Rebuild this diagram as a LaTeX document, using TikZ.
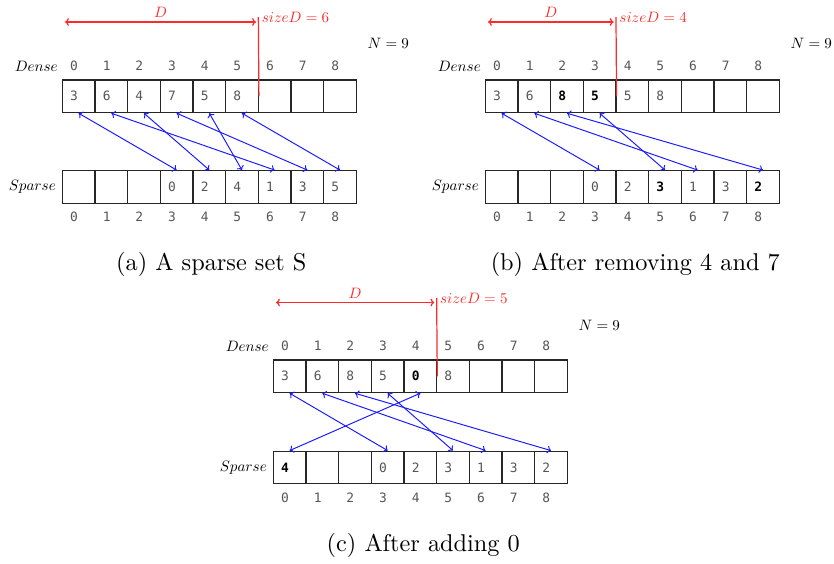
\documentclass[tikz,border=0pt]{standalone}
\usepackage{fontspec}
\usetikzlibrary{arrows.meta}
\newfontfamily\cellfont{DejaVu Sans Mono}
\definecolor{mRed}{HTML}{FF2A2A}
\definecolor{mBlue}{HTML}{1A1AFF}
\definecolor{mGray}{HTML}{555555}
\newcommand\shrink[1]{\scalebox{0.62}{#1}}
\newcommand\hl[1]{\textcolor{black}{\textbf{#1}}}

\tikzset{
  cell/.style={draw=black!85, line width=0.5pt, minimum height=13.44pt,
               inner xsep=3.2pt, inner ysep=0pt, text width=7.04pt, align=left,
               text=mGray, font=\cellfont\fontsize{5.3}{6}\selectfont},
  idx/.style={text=mGray, inner sep=0pt, font=\cellfont\fontsize{5.3}{6}\selectfont},
  rowname/.style={anchor=east, inner sep=0pt},
  link/.style={draw=mBlue, line width=0.4pt, <->, >={To[length=1.6pt,width=3.2pt]}},
  sizeline/.style={draw=mRed, line width=0.5pt},
  sizearrow/.style={draw=mRed, line width=0.5pt, <->, >={To[length=1.6pt,width=3.2pt]}},
  sizelabel/.style={text=mRed, anchor=west, inner sep=0pt},
  caption/.style={font=\normalsize},
}

\begin{document}
\begin{tikzpicture}[x=0.4115pt, y=-0.4115pt]
  \useasboundingbox (0,0) rectangle (834,563);

  % (a) the sparse set
  \begin{scope}[shift={(62.3,80)}]
    \foreach \v [count=\i from 0] in {3,6,4,7,5,8,{},{},{}}
      \node[cell] (a-d\i) at ({32.67*(\i+0.5)},16.3) {\v};
    \foreach \v [count=\i from 0] in {{},{},{},0,2,4,1,3,5}
      \node[cell] (a-s\i) at ({32.67*(\i+0.5)},107) {\v};
    \foreach \i in {0,...,8} {
      \node[idx] (a-di\i) at ({32.67*\i+11.7},-14) {\i};
      \node[idx] (a-si\i) at ({32.67*\i+11.7},137) {\i};
    }
    \node[rowname] (a-dense) at (-4,-14) {\shrink{$Dense$}};
    \node[rowname] (a-sparse) at (-6,107) {\shrink{$Sparse$}};
    \foreach \d/\s in {0/3,1/6,2/4,3/7,4/5,5/8}
      \draw[link] (a-d\d.south) -- (a-s\s.north);
    \coordinate (a-dl) at (2.7,-58);
    \coordinate (a-dr) at ({32.67*6-2.3},-58);
    \coordinate (a-top) at ({32.67*6},-63);
    \draw[sizearrow] (a-dl) -- node[above, inner sep=1.5pt, text=mRed] {\shrink{$D$}} (a-dr);
    \draw[sizeline] (a-top) -- (a-d5.east);
    \node[sizelabel] (a-size) at ({32.67*6+3},-63) {\shrink{$sizeD = 6$}};
    \node (a-n) at (326,-37) {\shrink{$N = 9$}};
    \node[caption] (a-cap) at (149,184) {(a) A sparse set S};
  \end{scope}

  % (b) after removing 4 and 7
  \begin{scope}[shift={(485.3,80)}]
    \foreach \v [count=\i from 0] in {3,6,\hl{8},\hl{5},5,8,{},{},{}}
      \node[cell] (b-d\i) at ({32.67*(\i+0.5)},16.3) {\v};
    \foreach \v [count=\i from 0] in {{},{},{},0,2,\hl{3},1,3,\hl{2}}
      \node[cell] (b-s\i) at ({32.67*(\i+0.5)},107) {\v};
    \foreach \i in {0,...,8} {
      \node[idx] (b-di\i) at ({32.67*\i+11.7},-14) {\i};
      \node[idx] (b-si\i) at ({32.67*\i+11.7},137) {\i};
    }
    \node[rowname] (b-dense) at (-4,-14) {\shrink{$Dense$}};
    \node[rowname] (b-sparse) at (-6,107) {\shrink{$Sparse$}};
    \foreach \d/\s in {0/3,1/6,2/8,3/5}
      \draw[link] (b-d\d.south) -- (b-s\s.north);
    \coordinate (b-dl) at (2.7,-58);
    \coordinate (b-dr) at ({32.67*4-2.3},-58);
    \coordinate (b-top) at ({32.67*4},-63);
    \draw[sizearrow] (b-dl) -- node[above, inner sep=1.5pt, text=mRed] {\shrink{$D$}} (b-dr);
    \draw[sizeline] (b-top) -- (b-d3.east);
    \node[sizelabel] (b-size) at ({32.67*4+3},-63) {\shrink{$sizeD = 4$}};
    \node (b-n) at (326,-37) {\shrink{$N = 9$}};
    \node[caption] (b-cap) at (150,184) {(b) After removing 4 and 7};
  \end{scope}

  % (c) after adding 0
  \begin{scope}[shift={(273.3,360)}]
    \foreach \v [count=\i from 0] in {3,6,8,5,\hl{0},8,{},{},{}}
      \node[cell] (c-d\i) at ({32.67*(\i+0.5)},16.3) {\v};
    \foreach \v [count=\i from 0] in {\hl{4},{},{},0,2,3,1,3,2}
      \node[cell] (c-s\i) at ({32.67*(\i+0.5)},107.5) {\v};
    \foreach \i in {0,...,8} {
      \node[idx] (c-di\i) at ({32.67*\i+11.7},-14) {\i};
      \node[idx] (c-si\i) at ({32.67*\i+11.7},138) {\i};
    }
    \node[rowname] (c-dense) at (-4,-14) {\shrink{$Dense$}};
    \node[rowname] (c-sparse) at (-6,107.5) {\shrink{$Sparse$}};
    \foreach \d/\s in {0/3,1/6,2/8,3/5,4/0}
      \draw[link] (c-d\d.south) -- (c-s\s.north);
    \coordinate (c-dl) at (2.7,-57.5);
    \coordinate (c-dr) at ({32.67*5-2.3},-57.5);
    \coordinate (c-top) at ({32.67*5},-62);
    \draw[sizearrow] (c-dl) -- node[above, inner sep=1.5pt, text=mRed] {\shrink{$D$}} (c-dr);
    \draw[sizeline] (c-top) -- (c-d4.east);
    \node[sizelabel] (c-size) at ({32.67*5+3},-62) {\shrink{$sizeD = 5$}};
    \node (c-n) at (326,-35) {\shrink{$N = 9$}};
    \node[caption] (c-cap) at (150,185) {(c) After adding 0};
  \end{scope}
\end{tikzpicture}
\end{document}
